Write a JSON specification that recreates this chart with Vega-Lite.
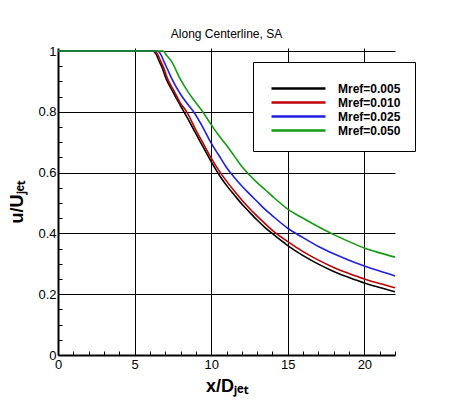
{
  "$schema": "https://vega.github.io/schema/vega-lite/v6.json",
  "width": 337,
  "height": 307,
  "autosize": {"type": "none"},
  "padding": {"left": 58, "top": 48, "right": 55, "bottom": 46},
  "background": "white",
  "title": {
    "text": "Along Centerline, SA",
    "font": "Liberation Sans",
    "fontSize": 12,
    "fontWeight": "normal",
    "color": "black",
    "anchor": "middle",
    "frame": "group",
    "offset": 4
  },
  "config": {
    "view": {"stroke": null},
    "font": "Liberation Sans"
  },
  "data": {
    "values": [
      {"x": 0, "u": 1, "M": "0.005"},
      {"x": 6.2, "u": 1, "M": "0.005"},
      {"x": 6.4, "u": 0.99, "M": "0.005"},
      {"x": 6.6, "u": 0.967, "M": "0.005"},
      {"x": 6.8, "u": 0.945, "M": "0.005"},
      {"x": 7.05, "u": 0.91, "M": "0.005"},
      {"x": 7.5, "u": 0.866, "M": "0.005"},
      {"x": 8, "u": 0.82, "M": "0.005"},
      {"x": 8.5, "u": 0.775, "M": "0.005"},
      {"x": 9, "u": 0.728, "M": "0.005"},
      {"x": 9.5, "u": 0.682, "M": "0.005"},
      {"x": 10, "u": 0.636, "M": "0.005"},
      {"x": 10.5, "u": 0.594, "M": "0.005"},
      {"x": 11, "u": 0.558, "M": "0.005"},
      {"x": 11.5, "u": 0.527, "M": "0.005"},
      {"x": 12, "u": 0.497, "M": "0.005"},
      {"x": 12.5, "u": 0.47, "M": "0.005"},
      {"x": 13, "u": 0.444, "M": "0.005"},
      {"x": 13.5, "u": 0.42, "M": "0.005"},
      {"x": 14, "u": 0.399, "M": "0.005"},
      {"x": 15, "u": 0.36, "M": "0.005"},
      {"x": 16, "u": 0.327, "M": "0.005"},
      {"x": 17, "u": 0.299, "M": "0.005"},
      {"x": 18, "u": 0.275, "M": "0.005"},
      {"x": 19, "u": 0.255, "M": "0.005"},
      {"x": 20, "u": 0.237, "M": "0.005"},
      {"x": 21, "u": 0.222, "M": "0.005"},
      {"x": 22, "u": 0.208, "M": "0.005"},

      {"x": 0, "u": 1, "M": "0.010"},
      {"x": 6.3, "u": 1, "M": "0.010"},
      {"x": 6.5, "u": 0.99, "M": "0.010"},
      {"x": 6.7, "u": 0.967, "M": "0.010"},
      {"x": 6.9, "u": 0.945, "M": "0.010"},
      {"x": 7.14, "u": 0.91, "M": "0.010"},
      {"x": 7.6, "u": 0.866, "M": "0.010"},
      {"x": 8, "u": 0.828, "M": "0.010"},
      {"x": 8.4, "u": 0.8, "M": "0.010"},
      {"x": 9, "u": 0.74, "M": "0.010"},
      {"x": 9.5, "u": 0.694, "M": "0.010"},
      {"x": 10, "u": 0.648, "M": "0.010"},
      {"x": 10.6, "u": 0.6, "M": "0.010"},
      {"x": 11, "u": 0.572, "M": "0.010"},
      {"x": 11.5, "u": 0.54, "M": "0.010"},
      {"x": 12, "u": 0.51, "M": "0.010"},
      {"x": 12.5, "u": 0.482, "M": "0.010"},
      {"x": 13, "u": 0.457, "M": "0.010"},
      {"x": 13.5, "u": 0.433, "M": "0.010"},
      {"x": 14, "u": 0.41, "M": "0.010"},
      {"x": 15, "u": 0.373, "M": "0.010"},
      {"x": 16, "u": 0.34, "M": "0.010"},
      {"x": 17, "u": 0.312, "M": "0.010"},
      {"x": 18, "u": 0.288, "M": "0.010"},
      {"x": 19, "u": 0.268, "M": "0.010"},
      {"x": 20, "u": 0.25, "M": "0.010"},
      {"x": 21, "u": 0.235, "M": "0.010"},
      {"x": 22, "u": 0.221, "M": "0.010"},

      {"x": 0, "u": 1, "M": "0.025"},
      {"x": 6.5, "u": 1, "M": "0.025"},
      {"x": 6.7, "u": 0.99, "M": "0.025"},
      {"x": 6.92, "u": 0.965, "M": "0.025"},
      {"x": 7.15, "u": 0.94, "M": "0.025"},
      {"x": 7.42, "u": 0.91, "M": "0.025"},
      {"x": 8, "u": 0.858, "M": "0.025"},
      {"x": 8.5, "u": 0.823, "M": "0.025"},
      {"x": 8.85, "u": 0.8, "M": "0.025"},
      {"x": 9.5, "u": 0.745, "M": "0.025"},
      {"x": 10, "u": 0.697, "M": "0.025"},
      {"x": 10.5, "u": 0.657, "M": "0.025"},
      {"x": 11, "u": 0.617, "M": "0.025"},
      {"x": 11.5, "u": 0.585, "M": "0.025"},
      {"x": 12, "u": 0.556, "M": "0.025"},
      {"x": 12.5, "u": 0.53, "M": "0.025"},
      {"x": 13, "u": 0.505, "M": "0.025"},
      {"x": 13.5, "u": 0.48, "M": "0.025"},
      {"x": 14, "u": 0.458, "M": "0.025"},
      {"x": 15, "u": 0.417, "M": "0.025"},
      {"x": 16, "u": 0.386, "M": "0.025"},
      {"x": 17, "u": 0.357, "M": "0.025"},
      {"x": 18, "u": 0.333, "M": "0.025"},
      {"x": 19, "u": 0.312, "M": "0.025"},
      {"x": 20, "u": 0.293, "M": "0.025"},
      {"x": 21, "u": 0.276, "M": "0.025"},
      {"x": 22, "u": 0.26, "M": "0.025"},

      {"x": 0, "u": 1, "M": "0.050"},
      {"x": 6.85, "u": 1, "M": "0.050"},
      {"x": 7.1, "u": 0.985, "M": "0.050"},
      {"x": 7.42, "u": 0.965, "M": "0.050"},
      {"x": 7.96, "u": 0.91, "M": "0.050"},
      {"x": 8.5, "u": 0.865, "M": "0.050"},
      {"x": 9, "u": 0.83, "M": "0.050"},
      {"x": 9.45, "u": 0.8, "M": "0.050"},
      {"x": 10, "u": 0.758, "M": "0.050"},
      {"x": 10.5, "u": 0.722, "M": "0.050"},
      {"x": 11, "u": 0.69, "M": "0.050"},
      {"x": 11.5, "u": 0.655, "M": "0.050"},
      {"x": 12, "u": 0.62, "M": "0.050"},
      {"x": 12.5, "u": 0.592, "M": "0.050"},
      {"x": 13, "u": 0.567, "M": "0.050"},
      {"x": 13.5, "u": 0.545, "M": "0.050"},
      {"x": 14, "u": 0.522, "M": "0.050"},
      {"x": 15, "u": 0.48, "M": "0.050"},
      {"x": 16, "u": 0.45, "M": "0.050"},
      {"x": 17, "u": 0.422, "M": "0.050"},
      {"x": 18, "u": 0.396, "M": "0.050"},
      {"x": 19, "u": 0.373, "M": "0.050"},
      {"x": 20, "u": 0.352, "M": "0.050"},
      {"x": 21, "u": 0.336, "M": "0.050"},
      {"x": 22, "u": 0.322, "M": "0.050"}
    ]
  },
  "mark": {"type": "line", "strokeWidth": 1.6, "interpolate": "monotone"},
  "encoding": {
    "x": {
      "field": "x",
      "type": "quantitative",
      "scale": {"domain": [0, 22], "nice": false, "zero": false},
      "axis": {
        "values": [0,1,2,3,4,5,6,7,8,9,10,11,12,13,14,15,16,17,18,19,20,21,22],
        "labelExpr": "datum.value % 5 === 0 ? datum.label : ''",
        "labelFont": "Liberation Sans",
        "labelFontSize": 13,
        "labelColor": "black",
        "labelPadding": 10,
        "labelFlush": false,
        "labelOverlap": false,
        "domainColor": "black",
        "domainWidth": 2,
        "tickColor": "black",
        "tickWidth": 1,
        "tickSize": {"condition": {"test": "datum.value % 5 === 0", "value": -7}, "value": -4},
        "grid": true,
        "gridColor": "black",
        "gridWidth": 1,
        "gridOpacity": {"condition": {"test": "datum.value % 5 === 0 && datum.value > 0", "value": 1}, "value": 0},
        "title": "x/Dⱼₑₜ",
        "titleFont": "Liberation Sans",
        "titleFontSize": 18,
        "titleFontWeight": "bold",
        "titleColor": "black",
        "titlePadding": 3
      }
    },
    "y": {
      "field": "u",
      "type": "quantitative",
      "scale": {"domain": [0, 1.01], "nice": false, "zero": true},
      "axis": {
        "values": [0,0.05,0.1,0.15,0.2,0.25,0.3,0.35,0.4,0.45,0.5,0.55,0.6,0.65,0.7,0.75,0.8,0.85,0.9,0.95,1],
        "labelExpr": "round(datum.value * 100) % 20 === 0 ? format(datum.value, '~g') : ''",
        "labelFont": "Liberation Sans",
        "labelFontSize": 13,
        "labelColor": "black",
        "labelPadding": 9,
        "labelFlush": false,
        "labelOverlap": false,
        "domainColor": "black",
        "domainWidth": 2,
        "tickColor": "black",
        "tickWidth": 1,
        "tickSize": {"condition": {"test": "round(datum.value * 100) % 20 === 0", "value": -7}, "value": -4},
        "grid": true,
        "gridColor": "black",
        "gridWidth": 1,
        "gridOpacity": {"condition": {"test": "round(datum.value * 100) % 20 === 0 && datum.value > 0", "value": 1}, "value": 0},
        "title": "u/Uⱼₑₜ",
        "titleFont": "Liberation Sans",
        "titleFontSize": 18,
        "titleFontWeight": "bold",
        "titleColor": "black",
        "titlePadding": 11
      }
    },
    "color": {
      "field": "M",
      "type": "nominal",
      "scale": {
        "domain": ["0.005", "0.010", "0.025", "0.050"],
        "range": ["#000000", "#c00000", "#2020e0", "#159a15"]
      },
      "legend": {
        "orient": "none",
        "legendX": 195,
        "legendY": 14,
        "title": " ",
        "titleFontSize": 5,
        "titlePadding": 1,
        "labelExpr": "'Mref=' + datum.label",
        "strokeColor": "black",
        "fillColor": "white",
        "padding": 14,
        "symbolType": "M-5.4,0H5.4",
        "symbolSize": 100,
        "symbolStrokeWidth": 2.5,
        "symbolOffset": 25,
        "labelFont": "Liberation Sans",
        "labelFontSize": 12,
        "labelFontWeight": "bold",
        "labelColor": "black",
        "labelOffset": 33,
        "rowPadding": 1
      }
    }
  }
}
